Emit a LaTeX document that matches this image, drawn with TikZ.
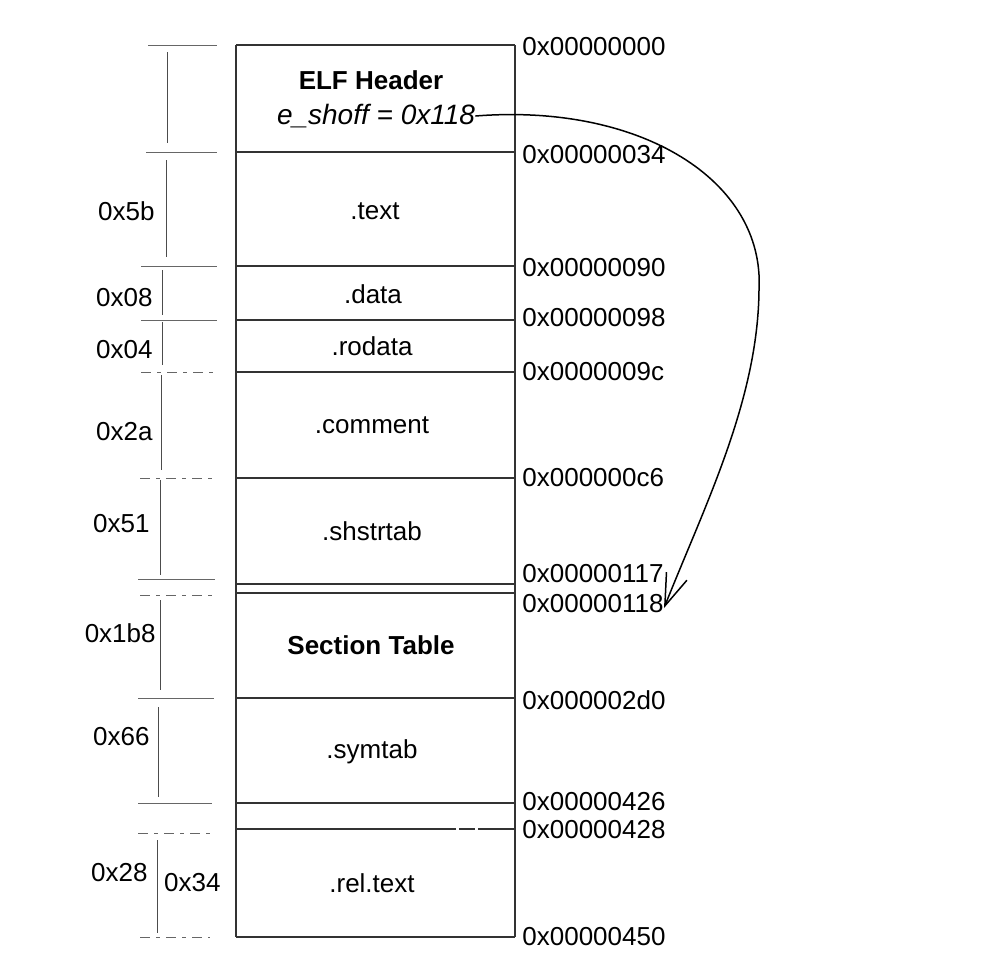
\documentclass[tikz,border=0pt]{standalone}
\usepackage{fontspec}
\setmainfont{Liberation Sans}
\usetikzlibrary{arrows.meta}
\tikzset{
  sect/.style      = {font=\fontsize{13}{15}\selectfont, inner sep=0pt},
  head/.style      = {font=\fontsize{13}{15}\selectfont\bfseries, inner sep=0pt},
  addr/.style      = {font=\fontsize{13}{15}\selectfont, anchor=west, inner sep=0pt},
  lenlabel/.style  = {font=\fontsize{13}{15}\selectfont, anchor=east, inner sep=0pt},
  wall/.style      = {draw=black!80, line width=0.6pt},
  dwall/.style     = {wall, dash pattern=on 110pt off 1.5pt on 8pt off 1.5pt},
  tickline/.style  = {draw=black!60, line width=0.5pt},
  dtickline/.style = {tickline, dash pattern=on 5pt off 3pt on 2pt off 3pt},
  dimline/.style   = {draw=black!70, line width=0.5pt},
  arrow/.style     = {-{Straight Barb[length=16pt, width=11pt]}, line width=0.75pt},
}

\begin{document}
\begin{tikzpicture}[x=0.5pt, y=-0.5pt]
  \useasboundingbox (0,0) rectangle (994,960);

  % file layout box
  \draw[wall] (236,45) -- (236,937);
  \draw[wall] (515,45) -- (515,937);
  \draw[wall] (236,45) -- (515,45);
  \draw[wall] (236,152) -- (515,152);
  \draw[wall] (236,266) -- (515,266);
  \draw[wall] (236,320) -- (515,320);
  \draw[wall] (236,372) -- (515,372);
  \draw[wall] (236,478) -- (515,478);
  \draw[wall] (236,584) -- (515,584);
  \draw[wall] (236,593) -- (515,593);
  \draw[wall] (236,698) -- (515,698);
  \draw[wall] (236,803) -- (515,803);
  \draw[dwall] (236,829) -- (515,829);
  \draw[wall] (236,937) -- (515,937);

  % section names
  \node[head] (elf)      at (371,80)  {ELF Header};
  \node[sect, font=\fontsize{14}{16}\selectfont\itshape] (shoff) at (376,116) {e\_shoff = 0x118};
  \node[sect] (text)     at (375,211) {.text};
  \node[sect] (data)     at (373,294) {.data};
  \node[sect] (rodata)   at (372,346) {.rodata};
  \node[sect] (comment)  at (372,425) {.comment};
  \node[sect] (shstrtab) at (372,531) {.shstrtab};
  \node[head] (shtab)    at (371,645) {Section Table};
  \node[sect] (symtab)   at (372,752) {.symtab};
  \node[sect] (reltext)  at (372,883) {.rel.text};

  % offsets
  \node[addr] (a000) at (522,47)  {0x00000000};
  \node[addr] (a034) at (522,155) {0x00000034};
  \node[addr] (a090) at (522,268) {0x00000090};
  \node[addr] (a098) at (522,318) {0x00000098};
  \node[addr] (a09c) at (522,372) {0x0000009c};
  \node[addr] (a0c6) at (522,478) {0x000000c6};
  \node[addr] (a117) at (522,574) {0x00000117};
  \node[addr] (a118) at (522,604) {0x00000118};
  \node[addr] (a2d0) at (522,700) {0x000002d0};
  \node[addr] (a426) at (522,802) {0x00000426};
  \node[addr] (a428) at (522,830) {0x00000428};
  \node[addr] (a450) at (522,937) {0x00000450};

  % size ticks on the left
  \draw[tickline]  (148,45)  -- (217,45);
  \draw[tickline]  (146,152) -- (217,152);
  \draw[tickline]  (141,266) -- (217,266);
  \draw[tickline]  (141,320) -- (217,320);
  \draw[dtickline] (141,372) -- (217,372);
  \draw[dtickline] (140,478) -- (212,478);
  \draw[tickline]  (138,579) -- (215,579);
  \draw[dtickline] (140,595) -- (213,595);
  \draw[tickline]  (138,698) -- (214,698);
  \draw[tickline]  (138,803) -- (212,803);
  \draw[dtickline] (138,833) -- (211,833);
  \draw[dtickline] (140,937) -- (210,937);

  \draw[dimline] (167,52)  -- (167,143);
  \draw[dimline] (166,160) -- (166,257);
  \draw[dimline] (162,270) -- (162,315);
  \draw[dimline] (162,322) -- (162,365);
  \draw[dimline] (161,375) -- (161,470);
  \draw[dimline] (160,480) -- (160,575);
  \draw[dimline] (160,600) -- (160,690);
  \draw[dimline] (158,707) -- (158,797);
  \draw[dimline] (157,840) -- (157,933);

  \node[lenlabel] (l5b)  at (155,211) {0x5b};
  \node[lenlabel] (l08)  at (153,298) {0x08};
  \node[lenlabel] (l04)  at (153,350) {0x04};
  \node[lenlabel] (l2a)  at (153,432) {0x2a};
  \node[lenlabel] (l51)  at (150,524) {0x51};
  \node[lenlabel] (l1b8) at (156,633) {0x1b8};
  \node[lenlabel] (l66)  at (150,737) {0x66};
  \node[lenlabel] (l28)  at (148,873) {0x28};
  \node[lenlabel] (l34)  at (221,883) {0x34};

  % e_shoff points at the section table
  \coordinate (bend) at (759,290);
  \draw[arrow] (shoff.east) .. controls (640,103) and (765,180) .. (bend)
               .. controls (758,400) and (705,505) .. ([yshift=-2pt]a118.east);
\end{tikzpicture}
\end{document}
